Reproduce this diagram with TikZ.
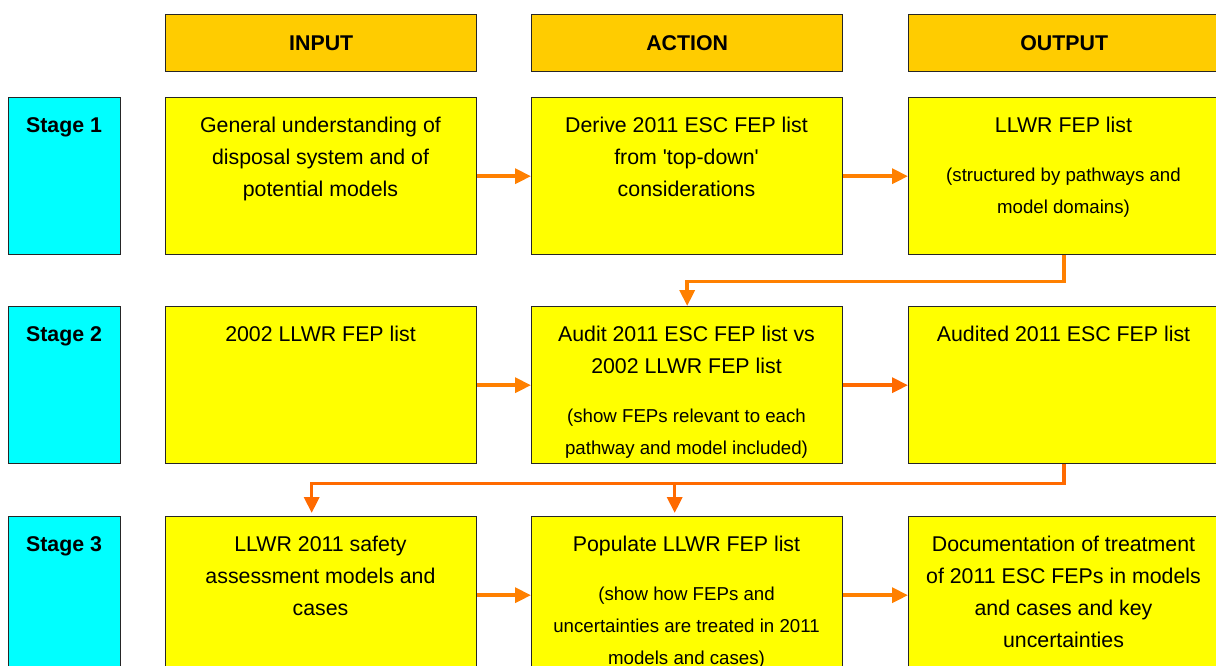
\documentclass[tikz,border=0pt]{standalone}
\usepackage{fontspec}
\setmainfont{Liberation Sans}[Ligatures=TeXOff]
\usetikzlibrary{arrows.meta}
\definecolor{hdr}{HTML}{FFCC00}
\definecolor{ybox}{HTML}{FFFF00}
\definecolor{cbox}{HTML}{00FFFF}
\definecolor{arrA}{HTML}{FF8000}
\definecolor{arrB}{HTML}{FF6A00}
\newcommand{\bigtxt}{\fontsize{21.33pt}{32pt}\selectfont}
\newcommand{\smalltxt}{\fontsize{18.67pt}{32pt}\selectfont}
\newcommand{\ptext}[1]{\parbox[t]{300pt}{\centering #1}}
\begin{document}
\begin{tikzpicture}[x=1pt,y=-1pt,
  frame/.style={draw=black!85, line width=1.4pt, inner sep=0pt, anchor=north west},
  hdrbox/.style={frame, fill=hdr, minimum width=311pt, minimum height=57pt, font=\bigtxt\bfseries},
  ybx/.style={frame, fill=ybox, minimum width=311pt, minimum height=157pt},
  stbox/.style={frame, fill=cbox, minimum width=112pt, minimum height=157pt},
  bigt/.style={anchor=base, inner sep=0pt, font=\bigtxt},
  smallt/.style={anchor=base, inner sep=0pt, font=\smalltxt},
  stlab/.style={anchor=base, inner sep=0pt, font=\bigtxt\bfseries},
  arrowA/.style={draw=arrA, line width=3.5pt, -{Triangle[length=16pt,width=15pt]}},
  arrowB/.style={draw=arrB, line width=3.5pt, -{Triangle[length=16pt,width=15pt]}}
]
\clip (0,0) rectangle (1216,666);
\fill[white] (0,0) rectangle (1216,666);

% headers
\node[hdrbox] (hin) at (165,14) {INPUT};
\node[hdrbox] (hact) at (531,14) {ACTION};
\node[hdrbox] (hout) at (908,14) {OUTPUT};

% stage boxes
\node[stbox] (s1) at (8,97) {};
\node[stbox] (s2) at (8,306) {};
\node[stbox] (s3) at (8,516) {};
\node[stlab] (s1t) at (64,132.5) {Stage 1};
\node[stlab] (s2t) at (64,341.5) {Stage 2};
\node[stlab] (s3t) at (64,551.5) {Stage 3};

% row 1
\node[ybx] (i1) at (165,97) {};
\node[ybx] (a1) at (531,97) {};
\node[ybx] (o1) at (908,97) {};
\node[bigt] (i1t) at (320.5,132.5) {\ptext{General understanding of\\disposal system and of\\potential models}};
\node[bigt] (a1t) at (686.5,132.5) {\ptext{Derive 2011 ESC FEP list\\from 'top-down'\\considerations}};
\node[bigt] (o1t) at (1063.5,132.5) {\ptext{LLWR FEP list}};
\node[smallt] (o1s) at (1063.5,181.5) {\ptext{(structured by pathways and\\model domains)}};

% row 2
\node[ybx] (i2) at (165,306) {};
\node[ybx] (a2) at (531,306) {};
\node[ybx] (o2) at (908,306) {};
\node[bigt] (i2t) at (320.5,341.5) {\ptext{2002 LLWR FEP list}};
\node[bigt] (a2t) at (686.5,341.5) {\ptext{Audit 2011 ESC FEP list vs\\2002 LLWR FEP list}};
\node[smallt] (a2s) at (686.5,422.5) {\ptext{(show FEPs relevant to each\\pathway and model included)}};
\node[bigt] (o2t) at (1063.5,341.5) {\ptext{Audited 2011 ESC FEP list}};

% row 3
\node[ybx] (i3) at (165,516) {};
\node[ybx] (a3) at (531,516) {};
\node[ybx] (o3) at (908,516) {};
\node[bigt] (i3t) at (320.5,551.5) {\ptext{LLWR 2011 safety\\assessment models and\\cases}};
\node[bigt] (a3t) at (686.5,551.5) {\ptext{Populate LLWR FEP list}};
\node[smallt] (a3s) at (686.5,600.5) {\ptext{(show how FEPs and\\uncertainties are treated in 2011\\models and cases)}};
\node[bigt] (o3t) at (1063.5,551.5) {\ptext{Documentation of treatment\\of 2011 ESC FEPs in models\\and cases and key\\uncertainties}};

% horizontal arrows
\draw[arrowA] (i1.east) -- (a1.west);
\draw[arrowA] (a1.east) -- (o1.west);
\draw[arrowA] (i2.east) -- (a2.west);
\draw[arrowB] (a2.east) -- (o2.west);
\draw[arrowA] (i3.east) -- (a3.west);
\draw[arrowA] (a3.east) -- (o3.west);

% stage connectors
\draw[arrowA] (o1.south) -- ++(0,26) -| (a2.north);
\draw[arrowB] (o2.south) -- ++(0,19) coordinate (j) -| ([xshift=-9.5pt,yshift=3pt]i3.north);
\draw[arrowB] ([xshift=-12.5pt]a3.north |- j) -- ([xshift=-12.5pt,yshift=3pt]a3.north);
\end{tikzpicture}
\end{document}
